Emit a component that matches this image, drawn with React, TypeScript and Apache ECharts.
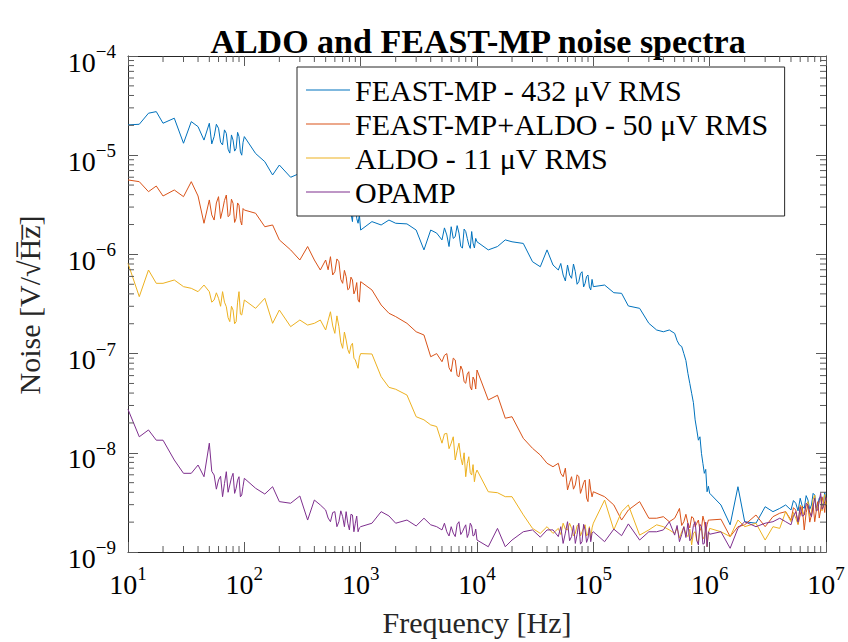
import React, { useEffect, useRef } from "react";
import * as echarts from "echarts";

// Frequency grid (Hz)
const FREQ_HZ = [
  10, 12.5, 15, 17.5, 20, 25, 30, 35, 40, 45, 50, 55, 60, 65, 70, 75, 80, 85, 90, 95,
  100, 125, 150, 175, 200, 250, 300, 350, 400, 450, 500, 550, 600, 650, 700, 750, 800, 850, 900, 950,
  1000, 1250, 1500, 1750, 2000, 2500, 3000, 3500, 4000, 4500, 5000, 5500, 6000, 6500, 7000, 7500, 8000, 8500, 9000, 9500,
  10000, 12500, 15000, 17500, 20000, 25000, 30000, 35000, 40000, 45000, 50000, 55000, 60000, 65000, 70000, 75000, 80000, 85000, 90000, 95000,
  100000, 125000, 150000, 175000, 200000, 250000, 300000, 350000, 400000, 450000, 500000, 550000, 600000, 650000, 700000, 750000, 800000, 850000, 900000, 950000,
  1000000, 1250000, 1500000, 1750000, 2000000, 2500000, 3000000, 3500000, 4000000, 4500000, 5000000, 5500000, 6000000, 6500000, 7000000, 7500000, 8000000, 8500000, 9000000, 9500000,
  10000000,
];

// Noise densities in nV/sqrt(Hz) on FREQ_HZ
const FEAST_MP_NV = [
  20200, 20500, 26500, 27500, 21000, 23600, 13200, 21800, 19400, 14200, 21000, 15400, 18700, 12700, 16600, 10500, 14200, 11700, 15400, 10000,
  15400, 10400, 8600, 6320, 7960, 5990, 6570, 5410, 5850, 4810, 5210, 4460, 5010, 4130, 4810, 3820, 4460, 2140, 3820, 2060,
  1760, 2140, 1980, 2220, 2060, 2030, 1760, 1110, 1760, 1640, 1400, 1570, 1900, 1510, 1640, 1160, 1700, 1250, 1700, 1160,
  1340, 1110, 1200, 1400, 1340, 1290, 844, 751, 1110, 782, 696, 620, 782, 574, 669, 531, 669, 511, 620, 438,
  473, 491, 411, 405, 302, 286, 202, 173, 166, 173, 160, 122, 100, 63.3, 39.8, 21.5, 13.4, 9.88, 6.21, 4.05,
  3.91, 2.98, 1.88, 4.55, 2.02, 1.95, 2.86, 2.55, 2.75, 2.98, 2.65, 3.1, 3.48, 2.75, 3.34, 2.98, 3.75, 2.98, 3.61, 3.1,
  3.3,
];

const FEAST_ALDO_NV = [
  5630, 5410, 4290, 4890, 3880, 4460, 3820, 5410, 3880, 2060, 3540, 2220, 3820, 2800, 3970, 2490, 3270, 2310, 3140, 1980,
  2800, 2600, 1900, 1980, 1400, 1110, 878, 1200, 878, 696, 878, 948, 669, 844, 511, 596, 455, 552, 438, 347,
  531, 438, 309, 255, 236, 202, 166, 154, 93, 100, 82.8, 100, 65.7, 86.2, 58.5, 68.3, 50.2, 65.7, 43, 54.2,
  68.3, 34.1, 38, 22.3, 23.1, 14, 11.1, 9.5, 7.84, 7.24, 7.84, 5.74, 4.22, 5.74, 4.74, 5.74, 4.39, 5.32, 3.22, 4.22,
  4.05, 3.61, 2.98, 2.1, 2.65, 3.22, 2.19, 2.19, 2.27, 2.02, 2.19, 2.75, 2.02, 1.95, 2.27, 1.8, 2.1, 1.73, 2.02, 1.88,
  2.1, 2.14, 1.43, 1.8, 1.88, 2.36, 1.8, 2.27, 2.46, 2.55, 2.1, 2.65, 2.36, 1.67, 2.98, 2.36, 2.02, 3.22, 2.65, 3.1,
  3.5,
];

const ALDO_NV = [
  813, 375, 696, 511, 511, 552, 473, 455, 421, 491, 421, 347, 361, 421, 297, 210, 275, 210, 421, 245,
  347, 286, 361, 202, 275, 187, 218, 194, 202, 218, 173, 264, 160, 187, 113, 137, 100, 127, 86.2, 71.1,
  100, 99.1, 58.5, 45.7, 43.7, 38.2, 23.1, 21.5, 19.1, 18.4, 12.5, 15.7, 12.5, 8.46, 12.5, 7.53, 5.74, 9.13, 5.97, 5.11,
  6.7, 4.05, 3.96, 3.61, 3.61, 2.37, 1.73, 1.54, 1.8, 1.54, 1.73, 1.95, 1.67, 1.73, 1.54, 1.88, 1.6, 1.88, 1.54, 1.32,
  1.95, 3.34, 1.67, 2.55, 2.98, 1.48, 1.67, 1.88, 1.8, 1.67, 1.54, 1.38, 1.8, 1.43, 1.18, 1.6, 1.27, 1.8, 1.43, 1.13,
  1.73, 1.6, 1.43, 2.1, 1.8, 1.95, 1.32, 1.8, 1.73, 2.55, 2.02, 2.19, 2.98, 2.36, 3.22, 2.55, 3.75, 2.86, 3.48, 3.22,
  3.0,
];

const OPAMP_NV = [
  27.4, 14.5, 17.0, 13.4, 13.4, 8.46, 6.21, 6.21, 7.53, 5.74, 12.5, 5.97, 5.32, 3.61, 6.45, 4.74, 6.21, 4.39, 5.74, 3.75,
  5.53, 4.39, 3.84, 4.55, 3.22, 3.1, 3.67, 2.1, 3.34, 2.98, 2.65, 2.02, 2.55, 2.02, 2.27, 2.55, 1.67, 2.36, 1.95, 1.6,
  1.8, 1.95, 2.55, 2.31, 1.95, 2.1, 1.83, 2.19, 1.88, 1.8, 1.67, 1.6, 1.8, 1.43, 2.02, 1.6, 1.88, 1.54, 1.83, 1.48,
  1.32, 1.13, 1.73, 1.13, 1.32, 1.6, 1.67, 1.41, 1.67, 1.67, 1.43, 1.22, 2.02, 1.43, 1.22, 1.95, 1.27, 1.67, 1.38, 1.27,
  1.6, 1.27, 1.7, 1.46, 1.92, 1.32, 1.6, 1.6, 1.67, 2.02, 1.48, 1.27, 1.8, 1.95, 1.38, 2.02, 1.18, 1.8, 1.22, 1.13,
  1.51, 1.6, 1.09, 1.73, 2.02, 1.8, 1.95, 2.02, 2.19, 2.02, 1.88, 2.55, 2.86, 2.36, 2.98, 2.27, 3.48, 2.65, 3.91, 2.86,
  3.6,
];

// Extra samples in the dense (upper) half of every decade
const EXTRA_FREQ_HZ = [
  52.5, 57.5, 62.5, 67.5, 72.5, 77.5, 82.5, 87.5, 92.5, 97.5,
  525, 575, 625, 675, 725, 775, 825, 875, 925, 975,
  5250, 5750, 6250, 6750, 7250, 7750, 8250, 8750, 9250, 9750,
  52500, 57500, 62500, 67500, 72500, 77500, 82500, 87500, 92500, 97500,
  525000, 575000, 625000, 675000, 725000, 775000, 825000, 875000, 925000, 975000,
  5250000, 5750000, 6250000, 6750000, 7250000, 7750000, 8250000, 8750000, 9250000, 9750000,
];

const FEAST_MP_EXTRA_NV = [
  13000, 20500, 13500, 18000, 11500, 16000, 11000, 17000, 10800, 13500,
  4100, 5400, 3600, 4900, 3500, 4400, 2600, 3900, 2300, 2500,
  1850, 1200, 1450, 1950, 1200, 1800, 1450, 1150, 1300, 1450,
  810, 540, 620, 800, 500, 640, 470, 600, 470, 560,
  135, 118, 85, 50, 32, 17, 14.5, 7.8, 6.8, 4.6,
  3.3, 2.6, 2.9, 3.7, 2.7, 3.9, 2.8, 3.5, 2.9, 4.0,
];

const FEAST_ALDO_EXTRA_NV = [
  2500, 3300, 2300, 3500, 2400, 3600, 2100, 3300, 2200, 2900,
  700, 620, 900, 560, 690, 440, 590, 400, 520, 330,
  96, 72, 90, 60, 75, 52, 62, 46, 58, 44,
  6.2, 7.0, 5.0, 4.3, 6.0, 3.9, 5.0, 3.5, 5.4, 3.6,
  2.45, 1.85, 2.4, 1.75, 2.2, 1.95, 1.65, 2.3, 1.6, 2.1,
  2.8, 1.9, 2.9, 2.5, 2.0, 3.0, 2.6, 2.2, 3.6, 2.5,
];

const ALDO_EXTRA_NV = [
  330, 410, 300, 330, 230, 300, 200, 330, 250, 290,
  215, 190, 240, 130, 165, 110, 120, 90, 78, 92,
  15.5, 11.0, 14.5, 10.5, 9.0, 10.0, 7.8, 6.3, 7.6, 6.2,
  1.5, 1.7, 1.95, 1.45, 1.85, 1.45, 1.75, 1.45, 1.8, 1.75,
  1.75, 1.6, 1.5, 1.7, 1.55, 1.3, 1.7, 1.35, 1.65, 1.55,
  2.5, 1.9, 2.6, 2.9, 2.3, 3.4, 2.6, 3.2, 2.6, 3.8,
];

const OPAMP_EXTRA_NV = [
  6.5, 4.3, 5.8, 4.9, 4.0, 5.6, 3.9, 5.3, 3.6, 4.6,
  2.2, 2.5, 1.8, 2.6, 1.8, 1.95, 2.4, 1.6, 2.3, 1.75,
  1.95, 1.45, 1.55, 1.9, 1.5, 1.75, 1.4, 1.95, 1.45, 1.7,
  1.8, 1.55, 1.3, 1.85, 1.5, 1.2, 1.9, 1.25, 1.75, 1.55,
  1.85, 1.5, 1.4, 1.3, 1.85, 1.3, 1.9, 1.2, 2.0, 1.6,
  2.3, 2.0, 2.3, 3.1, 2.5, 2.9, 2.6, 3.3, 2.7, 3.2,
];

const SERIES_NAMES = [
  "FEAST-MP - 432 μV RMS",
  "FEAST-MP+ALDO - 50 μV RMS",
  "ALDO - 11 μV RMS",
  "OPAMP",
];
const SERIES_COLORS = ["#0072BD", "#D95319", "#EDB120", "#7E2F8E"];

const TITLE = "ALDO and FEAST-MP noise spectra";
const X_NAME = "Frequency [Hz]";
const Y_NAME = "Noise [V/√H̅z̅]";

// Axis ranges and tick labels
const X_MIN = 10;
const X_MAX = 1e7;
const Y_MIN = 1e-9;
const Y_MAX = 1e-4;
const X_DECADES = [1, 2, 3, 4, 5, 6];
const Y_DECADES = [-9, -8, -7, -6, -5];
const X_TICK_EXP_LABELS: Record<number, string> = { 1: "1", 2: "2", 3: "3", 4: "4", 5: "5", 6: "6", 7: "7" };
const Y_TICK_EXP_LABELS: Record<number, string> = { [-9]: "−9", [-8]: "−8", [-7]: "−7", [-6]: "−6", [-5]: "−5", [-4]: "−4" };
const MINOR_MANTISSAS = [2, 3, 4, 5, 6, 7, 8, 9];

const SERIF = "Times New Roman";
const TICK_COLOR = "#5a5a5a";
const FRAME_COLOR = "#262626";

export default function App() {
  const ref = useRef<HTMLDivElement>(null);

  useEffect(() => {
    if (!ref.current) return;
    const chart = echarts.init(ref.current, null, { renderer: "svg" });

    const mainSets = [FEAST_MP_NV, FEAST_ALDO_NV, ALDO_NV, OPAMP_NV];
    const extraSets = [FEAST_MP_EXTRA_NV, FEAST_ALDO_EXTRA_NV, ALDO_EXTRA_NV, OPAMP_EXTRA_NV];
    const seriesData = mainSets.map((arr, s) =>
      FREQ_HZ.map((f, i) => [f, arr[i] * 1e-9])
        .concat(EXTRA_FREQ_HZ.map((f, i) => [f, extraSets[s][i] * 1e-9]))
        .sort((a, b) => a[0] - b[0])
    );

    const xMinor: number[][] = [];
    X_DECADES.forEach((d) => MINOR_MANTISSAS.forEach((m) => xMinor.push([m * Math.pow(10, d), Y_MIN])));
    const yMinor: number[][] = [];
    Y_DECADES.forEach((d) => MINOR_MANTISSAS.forEach((m) => yMinor.push([X_MIN, m * Math.pow(10, d)])));

    const expOf = (v: number) => Math.round(Math.log10(v));

    const labelRich = {
      b: { fontFamily: SERIF, fontWeight: "normal", fontSize: 28, color: "#000", padding: [6, 0, 0, 0] },
      s: { fontFamily: SERIF, fontWeight: "normal", fontSize: 19, color: "#000", verticalAlign: "top" },
    };

    const commonAxis = {
      axisLine: { show: true, onZero: false, lineStyle: { color: FRAME_COLOR, width: 1 } },
      axisTick: { show: true, inside: true, length: 10, lineStyle: { color: TICK_COLOR, width: 1 } },
      splitLine: { show: false },
      minorTick: { show: false },
      minorSplitLine: { show: false },
    };

    const tickRender = (isX: boolean) => (params: any, api: any) => {
      const len = 6;
      const style = { stroke: TICK_COLOR, lineWidth: 1 };
      if (isX) {
        const v = api.value(0);
        const b = api.coord([v, Y_MIN]);
        const t = api.coord([v, Y_MAX]);
        return {
          type: "group",
          children: [
            { type: "line", shape: { x1: b[0], y1: b[1], x2: b[0], y2: b[1] - len }, style },
            { type: "line", shape: { x1: t[0], y1: t[1], x2: t[0], y2: t[1] + len }, style },
          ],
        };
      }
      const v = api.value(1);
      const l = api.coord([X_MIN, v]);
      const r = api.coord([X_MAX, v]);
      return {
        type: "group",
        children: [
          { type: "line", shape: { x1: l[0], y1: l[1], x2: l[0] + len, y2: l[1] }, style },
          { type: "line", shape: { x1: r[0], y1: r[1], x2: r[0] - len, y2: r[1] }, style },
        ],
      };
    };

    const option: any = {
      animation: false,
      backgroundColor: "#fff",
      textStyle: { fontFamily: SERIF },
      grid: { left: 128, right: 22, top: 56, bottom: 90, containLabel: false },
      graphic: [
        {
          type: "text",
          x: 478,
          y: 24,
          style: {
            text: TITLE,
            fontFamily: SERIF,
            fontWeight: "bold",
            fontSize: 34,
            fill: "#000",
            align: "center",
            verticalAlign: "top",
          },
        },
        {
          type: "text",
          x: 477,
          y: 622,
          style: {
            text: X_NAME,
            fontFamily: SERIF,
            fontWeight: "normal",
            fontSize: 30,
            fill: "#262626",
            align: "center",
            verticalAlign: "middle",
          },
        },
        {
          type: "text",
          x: 29,
          y: 305,
          rotation: Math.PI / 2,
          style: {
            text: Y_NAME,
            fontFamily: SERIF,
            fontWeight: "normal",
            fontSize: 30,
            fill: "#262626",
            align: "center",
            verticalAlign: "middle",
          },
        },
      ],
      legend: {
        data: SERIES_NAMES.map((name) => ({ name, icon: "rect" })),
        orient: "vertical",
        left: 297,
        top: 67,
        padding: [6, 16, 7, 9],
        itemWidth: 44,
        itemHeight: 1.2,
        itemGap: 0,
        backgroundColor: "#fff",
        borderColor: FRAME_COLOR,
        borderWidth: 1,
        borderRadius: 0,
        selectedMode: false,
        formatter: (name: string) => `{t|${name}}`,
        textStyle: {
          fontFamily: SERIF,
          fontSize: 30,
          lineHeight: 34,
          color: "#000",
          rich: { t: { fontFamily: SERIF, fontWeight: "normal", fontSize: 30, lineHeight: 34, color: "#000" } },
        },
      },
      xAxis: [
        {
          ...commonAxis,
          type: "log",
          logBase: 10,
          min: X_MIN,
          max: X_MAX,
          splitNumber: 6,
          position: "bottom",
          axisLabel: {
            margin: 12,
            formatter: (v: number) => `{b|10}{s|${X_TICK_EXP_LABELS[expOf(v)] ?? ""}}`,
            rich: labelRich,
          },
        },
        {
          ...commonAxis,
          type: "log",
          logBase: 10,
          min: X_MIN,
          max: X_MAX,
          splitNumber: 6,
          position: "top",
          axisLabel: { show: false },
        },
      ],
      yAxis: [
        {
          ...commonAxis,
          type: "log",
          logBase: 10,
          min: Y_MIN,
          max: Y_MAX,
          splitNumber: 5,
          position: "left",
          axisLabel: {
            margin: 12,
            padding: [6, 0, 0, 0],
            formatter: (v: number) => `{b|10}{s|${Y_TICK_EXP_LABELS[expOf(v)] ?? ""}}`,
            rich: labelRich,
          },
        },
        {
          ...commonAxis,
          type: "log",
          logBase: 10,
          min: Y_MIN,
          max: Y_MAX,
          splitNumber: 5,
          position: "right",
          axisLabel: { show: false },
        },
      ],
      series: [
        ...SERIES_NAMES.map((name, i) => ({
          name,
          type: "line",
          data: seriesData[i],
          showSymbol: false,
          symbol: "none",
          color: SERIES_COLORS[i],
          lineStyle: { color: SERIES_COLORS[i], width: 1 },
          clip: true,
          z: 2 + i * 0.01,
        })),
        {
          type: "custom",
          name: "xminor",
          silent: true,
          data: xMinor,
          renderItem: tickRender(true),
          z: 3,
        },
        {
          type: "custom",
          name: "yminor",
          silent: true,
          data: yMinor,
          renderItem: tickRender(false),
          z: 3,
        },
      ],
    };

    chart.setOption(option);
    return () => chart.dispose();
  }, []);

  return (
    <div
      ref={ref}
      style={{ position: "fixed", left: 0, top: 0, width: 848, height: 642, background: "#fff" }}
    />
  );
}
